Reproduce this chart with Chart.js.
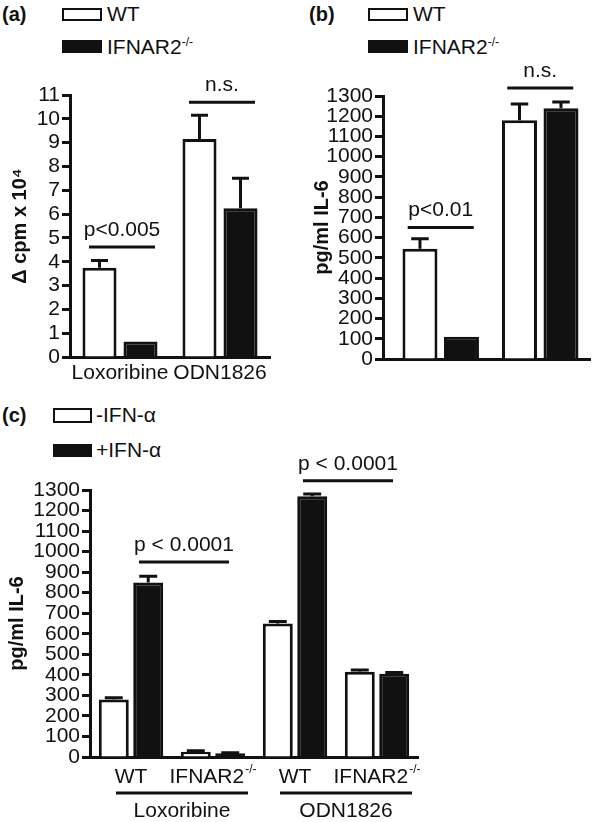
<!DOCTYPE html>
<html>
<head>
<meta charset="utf-8">
<script src="https://cdn.jsdelivr.net/npm/chart.js@4.4.0/dist/chart.umd.min.js"></script>
<style>
  body { margin: 0; width: 600px; height: 822px; background: #fff; position: relative; overflow: hidden;
         font-family: "Liberation Sans", Arial, Helvetica, sans-serif; color: #111; }
  canvas { position: absolute; }
  .tag { position: absolute; font-weight: bold; font-size: 20px; line-height: 20px; }
  .box { position: absolute; width: 40px; height: 13px; box-sizing: border-box; border: 2px solid #111; background: #fff; }
  .box.fill { background: #111; }
  .txt { position: absolute; font-size: 21px; line-height: 20px; white-space: nowrap; }
  .txt sup { font-size: 12px; line-height: 0; vertical-align: 8px; }
</style>
</head>
<body>
<div class="tag" style="left:2px;top:4px">(a)</div>
<div class="box" style="left:62px;top:8px"></div>
<div class="txt" style="left:107px;top:4px">WT</div>
<div class="box fill" style="left:62px;top:40px"></div>
<div class="txt" style="left:107px;top:37px">IFNAR2<sup>-/-</sup></div>
<canvas id="chartA" width="300" height="340" style="left:0;top:60px;width:300px;height:340px"></canvas>

<div class="tag" style="left:309px;top:4px">(b)</div>
<div class="box" style="left:368px;top:8px"></div>
<div class="txt" style="left:413px;top:4px">WT</div>
<div class="box fill" style="left:368px;top:40px"></div>
<div class="txt" style="left:413px;top:37px">IFNAR2<sup>-/-</sup></div>
<canvas id="chartB" width="300" height="340" style="left:300px;top:60px;width:300px;height:340px"></canvas>

<div class="tag" style="left:2px;top:405px">(c)</div>
<div class="box" style="left:53px;top:408px;width:39px;height:15px"></div>
<div class="txt" style="left:96px;top:405px">-IFN-α</div>
<div class="box fill" style="left:53px;top:444px;width:39px"></div>
<div class="txt" style="left:96px;top:440px">+IFN-α</div>
<canvas id="chartC" width="450" height="382" style="left:0;top:440px;width:450px;height:382px"></canvas>

<script>
const INK = "#111";
const FONT = '"Liberation Sans", Arial, Helvetica, sans-serif';

// panel (a): proliferation
const aCats = ["Loxoribine", "ODN1826"];
const aWT = [3.75, 9.15];
const aWTErr = [0.3, 1.0];
const aKO = [0.65, 6.25];
const aKOErr = [0, 1.25];
const aSig = [{ from: 0, to: 0, level: 4.62, text: "p<0.005" }, { from: 1, to: 1, level: 10.7, text: "n.s." }];

// panel (b): IL-6
const bCats = ["Loxoribine", "ODN1826"];
const bWT = [545, 1180];
const bWTErr = [50, 80];
const bKO = [110, 1240];
const bKOErr = [0, 30];
const bSig = [{ from: 0, to: 0, level: 650, text: "p<0.01" }, { from: 1, to: 1, level: 1340, text: "n.s." }];

// panel (c): IL-6 with / without IFN-alpha
const cCats = ["WT", "IFNAR2", "WT", "IFNAR2"];
const cSup = ["", "-/-", "", "-/-"];
const cGroups = ["Loxoribine", "ODN1826"];
const cGroupOf = [0, 0, 1, 1];
const cMinus = [280, 25, 650, 415];
const cMinusErr = [8, 5, 10, 8];
const cPlus = [850, 18, 1270, 405];
const cPlusErr = [30, 3, 10, 7];
const cSig = [{ from: 0, to: 1, level: 950, text: "p < 0.0001" }, { from: 2, to: 3, level: 1345, text: "p < 0.0001" }];

const val = d => (typeof d === "object" ? d.y : d);

function errorBars(capFrac) {
  return {
    id: "errorBars",
    afterDatasetsDraw(chart) {
      const { ctx } = chart;
      const ys = chart.scales.y;
      ctx.save();
      ctx.strokeStyle = INK;
      ctx.lineWidth = 3;
      chart.data.datasets.forEach((ds, di) => {
        chart.getDatasetMeta(di).data.forEach((bar, i) => {
          const e = ds.errors[i];
          if (!e) return;
          const top = ys.getPixelForValue(val(ds.data[i]) + e);
          const half = bar.width * capFrac / 2;
          ctx.beginPath();
          ctx.moveTo(bar.x, bar.y);
          ctx.lineTo(bar.x, top);
          ctx.moveTo(bar.x - half, top);
          ctx.lineTo(bar.x + half, top);
          ctx.stroke();
        });
      });
      ctx.restore();
    }
  };
}

function sigLines(items, dx0, dx1) {
  return {
    id: "sigLines",
    afterDraw(chart) {
      const { ctx } = chart;
      const xs = chart.scales.x, ys = chart.scales.y;
      ctx.save();
      ctx.strokeStyle = INK;
      ctx.fillStyle = INK;
      ctx.lineWidth = 3;
      ctx.font = "21px " + FONT;
      ctx.textAlign = "center";
      ctx.textBaseline = "middle";
      items.forEach(s => {
        const x0 = xs.getPixelForValue(s.from) + dx0;
        const x1 = xs.getPixelForValue(s.to) + dx1;
        const y = ys.getPixelForValue(s.level);
        ctx.beginPath();
        ctx.moveTo(x0, y);
        ctx.lineTo(x1, y);
        ctx.stroke();
        ctx.fillText(s.text, (x0 + x1) / 2, y - 17);
      });
      ctx.restore();
    }
  };
}

// category labels with superscripts, group underlines and group names for (c)
const groupLabels = {
  id: "groupLabels",
  afterDraw(chart) {
    const { ctx } = chart;
    const xs = chart.scales.x;
    const base = chart.chartArea.bottom;
    ctx.save();
    ctx.fillStyle = INK;
    ctx.strokeStyle = INK;
    ctx.textBaseline = "middle";
    ctx.textAlign = "left";
    cCats.forEach((c, i) => {
      const cx = xs.getPixelForValue(i);
      ctx.font = "21px " + FONT;
      const w1 = ctx.measureText(c).width;
      ctx.font = "12px " + FONT;
      const w2 = cSup[i] ? ctx.measureText(cSup[i]).width + 1 : 0;
      const x = cx - (w1 + w2) / 2;
      ctx.font = "21px " + FONT;
      ctx.fillText(c, x, base + 20);
      if (cSup[i]) {
        ctx.font = "12px " + FONT;
        ctx.fillText(cSup[i], x + w1 + 1, base + 13);
      }
    });
    ctx.lineWidth = 3;
    ctx.font = "21px " + FONT;
    ctx.textAlign = "center";
    cGroups.forEach((g, gi) => {
      const idx = cGroupOf.map((v, i) => (v === gi ? i : -1)).filter(i => i >= 0);
      const x0 = xs.getPixelForValue(idx[0]) - 15;
      const x1 = xs.getPixelForValue(idx[idx.length - 1]) + 35;
      ctx.beginPath();
      ctx.moveTo(x0, base + 36);
      ctx.lineTo(x1, base + 36);
      ctx.stroke();
      ctx.fillText(g, (x0 + x1) / 2, base + 54);
    });
    ctx.restore();
  }
};

function yAxis(max, step, title, titlePad, width) {
  return {
    min: 0,
    max: max,
    ticks: { stepSize: step, autoSkip: false, color: INK, font: { size: 21, family: FONT }, padding: 2,
             callback: v => String(v) },
    grid: { display: true, drawOnChartArea: false, drawTicks: true, tickLength: 8, tickWidth: 3, tickColor: INK },
    border: { display: true, width: 3, color: INK },
    title: { display: true, text: title, color: INK, font: { size: 20, weight: "bold", family: FONT },
             padding: { top: titlePad, bottom: 0 } },
    afterFit: s => { s.width = width; }
  };
}

const xBase = {
  grid: { display: false, drawTicks: false },
  border: { display: true, width: 3, color: INK },
  ticks: { color: INK, font: { size: 21, family: FONT }, padding: 4, maxRotation: 0, autoSkip: false }
};

const common = {
  responsive: false,
  animation: false,
  devicePixelRatio: 1,
  plugins: { legend: { display: false }, tooltip: { enabled: false } }
};

new Chart(document.getElementById("chartA"), {
  type: "bar",
  data: {
    labels: aCats,
    datasets: [
      { label: "WT", data: aWT, errors: aWTErr, backgroundColor: "#fff", borderColor: INK, borderWidth: 3,
        categoryPercentage: 0.82, barPercentage: 0.83 },
      { label: "IFNAR2-/-", data: aKO, errors: aKOErr, backgroundColor: INK, borderColor: INK, borderWidth: 3,
        categoryPercentage: 0.82, barPercentage: 0.83 }
    ]
  },
  options: {
    ...common,
    layout: { padding: { top: 35, right: 30, left: 0, bottom: 3 } },
    scales: {
      x: { ...xBase, afterFit: s => { s.height = 40; } },
      y: yAxis(11, 1, "\u0394 cpm x 10\u2074", 8, 70)
    }
  },
  plugins: [errorBars(0.5), sigLines(aSig, -31, 35)]
});

new Chart(document.getElementById("chartB"), {
  type: "bar",
  data: {
    datasets: [
      { label: "WT", data: bWT.map((v, i) => ({ x: i, y: v })), errors: bWTErr,
        backgroundColor: "#fff", borderColor: INK, borderWidth: 3, categoryPercentage: 0.834, barPercentage: 0.843 },
      { label: "IFNAR2-/-", data: bKO.map((v, i) => ({ x: i, y: v })), errors: bKOErr,
        backgroundColor: INK, borderColor: INK, borderWidth: 3, categoryPercentage: 0.834, barPercentage: 0.843 }
    ]
  },
  options: {
    ...common,
    layout: { padding: { top: 36, right: 10, left: 0, bottom: 1 } },
    scales: {
      x: {
        ...xBase,
        type: "linear", min: -0.58, max: 1.5, offset: false, bounds: "data",
        ticks: { ...xBase.ticks, stepSize: 1, callback: v => bCats[v] ?? "" },
        afterBuildTicks: s => { s.ticks = s.ticks.filter(t => Number.isInteger(t.value)); },
        afterFit: s => { s.height = 40; }
      },
      y: yAxis(1300, 100, "pg/ml IL-6", 10, 83)
    }
  },
  plugins: [errorBars(0.5), sigLines(bSig, -33, 33)]
});

new Chart(document.getElementById("chartC"), {
  type: "bar",
  data: {
    labels: cCats,
    datasets: [
      { label: "-IFN-\u03b1", data: cMinus, errors: cMinusErr, backgroundColor: "#fff", borderColor: INK, borderWidth: 3,
        categoryPercentage: 0.84, barPercentage: 0.87 },
      { label: "+IFN-\u03b1", data: cPlus, errors: cPlusErr, backgroundColor: INK, borderColor: INK, borderWidth: 3,
        categoryPercentage: 0.84, barPercentage: 0.87 }
    ]
  },
  options: {
    ...common,
    layout: { padding: { top: 50, right: 32, left: 0, bottom: 5 } },
    scales: {
      x: { ...xBase, ticks: { display: false }, afterFit: s => { s.height = 60; } },
      y: yAxis(1300, 100, "pg/ml IL-6", 5, 90)
    }
  },
  plugins: [errorBars(0.6), sigLines(cSig, 8, 16), groupLabels]
});
</script>
</body>
</html>
